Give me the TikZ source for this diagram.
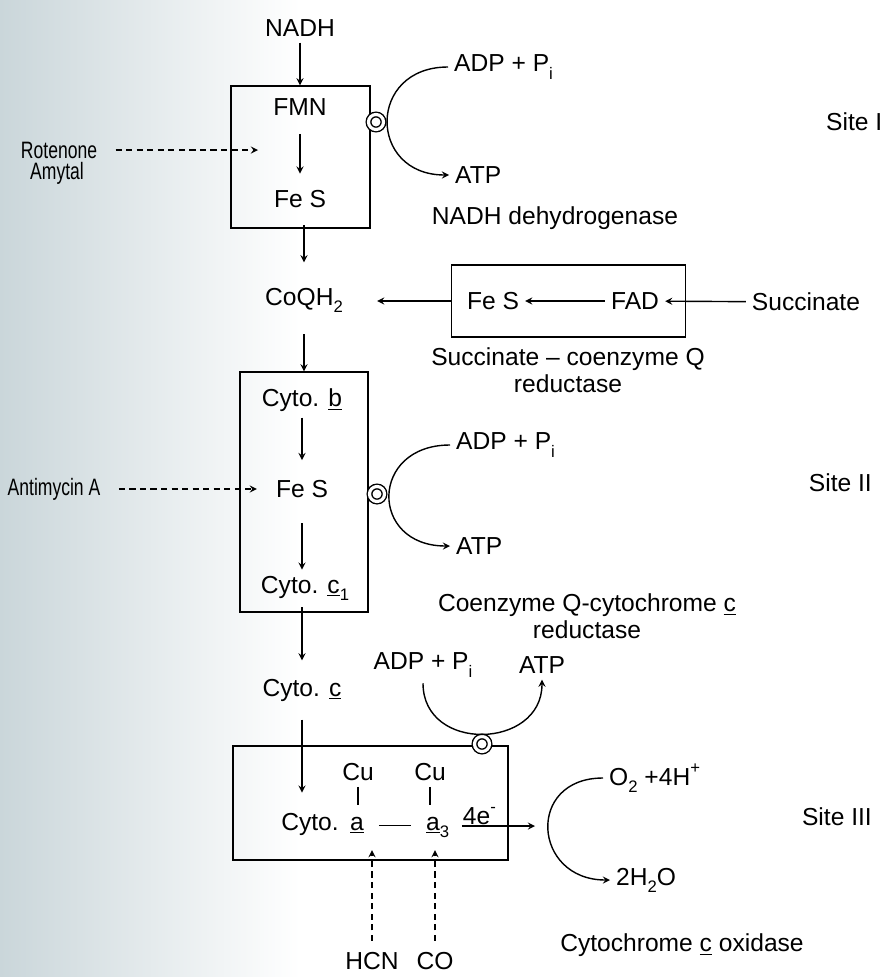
\documentclass[tikz,border=0pt]{standalone}
\usepackage{fontspec}
\setmainfont{Liberation Sans}
\newfontfamily\narrowsf[FakeStretch=0.74]{Liberation Sans}
\usepackage{xcolor}
\usetikzlibrary{arrows,positioning,calc}
\definecolor{scanblue}{RGB}{202,214,218}
\newcommand{\lowtxt}[1]{\raisebox{-0.55ex}{\fontsize{9.5}{9.5}\selectfont #1}}
\newcommand{\uptxt}[1]{\raisebox{0.9ex}{\fontsize{9.5}{9.5}\selectfont #1}}

\begin{document}
\begin{tikzpicture}[
    x=0.02cm, y=-0.02cm,
    every node/.style={font=\fontsize{14}{15.5}\selectfont, align=center},
    complex/.style={rectangle, draw, line width=0.8pt},
    inhibitor/.style={font=\narrowsf\fontsize{13.5}{15}\selectfont},
    coupling/.style={circle, draw, double, line width=0.8pt, double distance=1.8pt, minimum size=0.3cm, inner sep=0pt, fill=white},
    bond/.style={line width=0.8pt},
    arrow/.style={line width=0.8pt,->,>=stealth},
    blocked/.style={line width=0.8pt,->,>=stealth, dash pattern=on 3.5pt off 2.5pt}
]

% page and scan tint
\useasboundingbox (0,0) rectangle (882,977);
\fill[left color=scanblue, right color=white] (0,0) rectangle (300,977);

% NADH dehydrogenase (site I)
\node (nadh) at (300,28) {NADH};
\node[complex, minimum width=2.78cm, minimum height=2.84cm] (box1) at (300.5,157) {};
\node (fmn) at (300,107) {FMN};
\node (fes1) at (300,199) {Fe S};
\node[inhibitor] (roten) at (59,150) {Rotenone};
\node[inhibitor] (amytal) at (57,173) {Amytal};
\coordinate (rotend) at (258,150);
\node[coupling] (cp1) at (376,122) {};
\node[anchor=west] (adp1) at (448,67) {ADP + P\lowtxt{i}};
\node[anchor=west] (atp1) at (449,175) {ATP};
\node (nadhdh) at (555,218) {NADH dehydrogenase};
\node[anchor=west] (site1) at (820,122) {Site I};

% Succinate - coenzyme Q reductase
\node (coq) at (304,300) {CoQH\lowtxt{2}};
\node[complex, minimum width=4.68cm, minimum height=1.44cm] (box4) at (568.5,301) {};
\node (fes3) at (493,301) {Fe S};
\node (fad) at (635,301) {FAD};
\node (succ) at (806,302) {Succinate};
\node (sqr) at (568,370) {Succinate -- coenzyme Q\\reductase};

% Coenzyme Q-cytochrome c reductase (site II)
\node[complex, minimum width=2.56cm, minimum height=4.8cm] (box2) at (304,492) {};
\node (cytob) at (302,400) {Cyto. \underline{b}};
\node (fes2) at (302,489) {Fe S};
\node (cytoc1) at (305,588) {Cyto. \underline{c}\lowtxt{1}};
\node[inhibitor] (anti) at (54,489) {Antimycin A};
\node[coupling] (cp2) at (377,494) {};
\node[anchor=west] (adp2) at (450,445) {ADP + P\lowtxt{i}};
\node[anchor=west] (atp2) at (450,546) {ATP};
\node (qcr) at (587,616) {Coenzyme Q-cytochrome \underline{c}\\reductase};
\node[anchor=east] (site2) at (878,483) {Site II};

% Cytochrome c oxidase (site III)
\node (cytoc) at (302,690) {Cyto. \underline{c}};
\node[complex, minimum width=5.5cm, minimum height=2.28cm] (box3) at (370.5,803) {};
\node[coupling] (cp3) at (482,744) {};
\node (adp3) at (423,665) {ADP + P\lowtxt{i}};
\node (atp3) at (542,665) {ATP};
\node (cu1) at (358,772) {Cu};
\node (cu2) at (430,772) {Cu};
\node[anchor=base] (cytolbl) at (310,830) {Cyto.};
\node[anchor=base] (aa) at (357,830) {\underline{a}};
\node[anchor=base] (a3) at (433,830) {\underline{a}\rlap{\lowtxt{3}}};
\coordinate (eend) at (535,826);
\node (hcn) at (372,961) {HCN};
\node (co) at (435,961) {CO};
\node[anchor=west] (o2) at (603,778) {O\lowtxt{2} +4H\uptxt{+}};
\node[anchor=west] (water) at (610,880) {2H\lowtxt{2}O};
\node (cco) at (682,945) {Cytochrome \underline{c} oxidase};
\node[anchor=east] (site3) at (878,817) {Site III};

% electron flow
\draw[arrow] (nadh) -- (nadh |- box1.north);
\draw[arrow, shorten <=7pt, shorten >=6pt] (fmn) -- (fes1);
\draw[arrow, shorten <=-2pt, shorten >=11pt] (coq |- box1.south) -- (coq);
\draw[arrow] (succ) -- (fad);
\draw[arrow] (fad) -- (fes3);
\draw[arrow, shorten >=16pt] (box4.west) -- (box4.west -| coq.east);
\draw[arrow, shorten <=9pt] (coq) -- (coq |- box2.north);
\draw[arrow, shorten >=8pt] (cytob) -- (fes2);
\draw[arrow, shorten <=11pt] (fes2) -- (fes2 |- cytoc1.north);
\draw[arrow, shorten <=-3pt, shorten >=7pt] (cytoc |- box2.south) -- (cytoc);
\draw[arrow, shorten <=7pt, shorten >=8pt] (cytoc.south) -- (cytoc.south |- cytolbl.north);
\draw[bond, shorten >=3pt] (cu1) -- (cu1 |- aa.north);
\draw[bond, shorten >=3pt] (cu2) -- (cu2 |- a3.north);
\draw[bond, shorten <=5pt, shorten >=5pt] (aa.mid east) -- (a3.mid west);
\draw[arrow, shorten <=9pt] (a3.east |- eend) -- (eend) node[pos=0.375, above=-3pt] {4e\uptxt{-}};

% inhibitors
\draw[blocked, shorten <=7pt] (roten) -- (rotend);
\draw[blocked, shorten <=7pt, shorten >=-10pt] (anti) -- (anti -| box2.west);
\draw[blocked, shorten <=3pt, shorten >=-6pt] (hcn) -- (hcn |- box3.south);
\draw[blocked, shorten <=3pt, shorten >=-6pt] (co) -- (co |- box3.south);

% phosphorylation and oxygen
\draw[arrow] (adp1.west) to[out=180, in=180, looseness=1.92] (atp1.west);
\draw[arrow] (adp2.west) to[out=180, in=180, looseness=2.05] (atp2.west);
\draw[arrow] (adp3.south) to[out=-90, in=-90, looseness=1.5] (atp3.south);
\draw[arrow] (o2.west) to[out=180, in=180, looseness=1.94] (water.west);

\end{tikzpicture}
\end{document}
